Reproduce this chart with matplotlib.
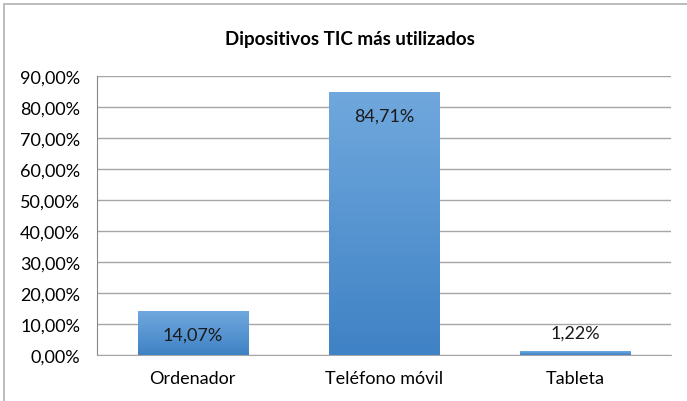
import numpy as np
import matplotlib
matplotlib.use("Agg")
import matplotlib.pyplot as plt
from matplotlib.colors import LinearSegmentedColormap
from matplotlib.patches import Rectangle

plt.rcParams['font.family'] = ['Lato', 'DejaVu Sans']

categories = ["Ordenador", "Teléfono móvil", "Tableta"]
values = [14.07, 84.71, 1.22]
labels = ["14,07%", "84,71%", "1,22%"]
yticks = [0, 10, 20, 30, 40, 50, 60, 70, 80, 90]
title = "Dipositivos TIC más utilizados"

W, H = 687, 402
fs = 13
fig = plt.figure(figsize=(W / 100, H / 100), dpi=100)
ax = fig.add_axes([97 / W, (H - 356) / H, (671 - 97) / W, (356 - 77) / H])

# outer chart frame (top and left visible)
fig.add_artist(Rectangle((4 / W, -0.1), 1.2, (H - 5) / H + 0.1, transform=fig.transFigure,
                         fill=False, edgecolor="#b0b0b0", lw=1.2))

x = np.arange(len(categories))
bars = ax.bar(x, values, width=0.575, color="none", zorder=3)
cmap = LinearSegmentedColormap.from_list("g", ["#3f82c5", "#70a8dd"])
grad = np.linspace(0, 1, 256).reshape(-1, 1)
for b in bars:
    x0, w, h = b.get_x(), b.get_width(), b.get_height()
    im = ax.imshow(grad, cmap=cmap, origin="lower", aspect="auto",
                   extent=[x0, x0 + w, 0, h], zorder=3)
    im.set_clip_path(b)

ax.set_xlim(-0.5, 2.5)
ax.set_ylim(0, 90)
ax.set_yticks(yticks)
ax.set_yticklabels([f"{t},00%" for t in yticks], fontsize=fs)
ax.set_xticks(x)
ax.set_xticklabels(categories, fontsize=fs)
ax.tick_params(axis="y", length=0, pad=12)
ax.tick_params(axis="x", length=0, pad=11)
ax.grid(axis="y", color="#a6a6a6", lw=1, zorder=0)
for s in ["top", "right"]:
    ax.spines[s].set_visible(False)
ax.spines["left"].set_color("#868686")
ax.spines["bottom"].set_color("#a6a6a6")

for xi, v, lab in zip(x, values, labels):
    off = -16.5 if v > 10 else 13.5
    ax.annotate(lab, (xi, v), xytext=(0, off), textcoords="offset points",
                ha="center", va="center", fontsize=fs, color="#1a1a1a", zorder=5)

fig.text(350 / W, 1 - 40 / H, title, ha="center", va="center", fontsize=13.5, fontweight="bold")

fig.savefig("out.png", dpi=100)
